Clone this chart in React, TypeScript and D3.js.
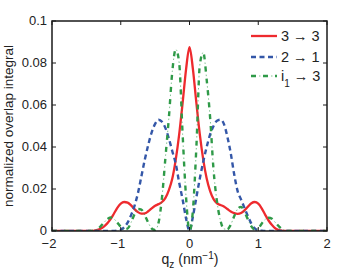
import { useEffect, useRef } from "react";
import * as d3 from "d3";

// q_z grid (nm^-1)
const qValues = [
  -2, -1.75, -1.5, -1.45, -1.4, -1.35, -1.3, -1.25, -1.2, -1.15, -1.1, -1.05,
  -1.0, -0.95, -0.9, -0.85, -0.8, -0.75, -0.7, -0.65, -0.6, -0.55, -0.5, -0.45,
  -0.4, -0.35, -0.3, -0.25, -0.2, -0.15, -0.1, -0.05, 0,
  0.05, 0.1, 0.15, 0.2, 0.25, 0.3, 0.35, 0.4, 0.45, 0.5, 0.55, 0.6,
  0.65, 0.7, 0.75, 0.8, 0.85, 0.9, 0.95, 1.0, 1.05, 1.1, 1.15, 1.2,
  1.25, 1.3, 1.35, 1.4, 1.45, 1.5, 1.75, 2,
];

// 3 -> 3
const red33 = [
  0, 0, 0, 0, 0.0001, 0.0004, 0.001, 0.002, 0.0035, 0.0055, 0.0082, 0.011,
  0.013, 0.0138, 0.0135, 0.0122, 0.0104, 0.009, 0.0083, 0.0084, 0.0094, 0.0108, 0.012, 0.0128,
  0.0138, 0.0158, 0.0195, 0.025, 0.034, 0.046, 0.061, 0.077, 0.0875,
  0.077, 0.061, 0.046, 0.034, 0.025, 0.019, 0.0152, 0.0132, 0.0124, 0.0117, 0.0105, 0.0093,
  0.0085, 0.0082, 0.0086, 0.0098, 0.0116, 0.0132, 0.0138, 0.013, 0.0108, 0.0078, 0.005, 0.0028,
  0.0012, 0.0004, 0.0001, 0, 0, 0, 0, 0,
];

// 2 -> 1
const blue21 = [
  0, 0, 0, 0, 0, 0, 0, 0, 0, 0, 0, 0.0002,
  0.0006, 0.0018, 0.004, 0.0075, 0.012, 0.018, 0.026, 0.034, 0.041, 0.047, 0.051, 0.053,
  0.052, 0.049, 0.044, 0.038, 0.032, 0.023, 0.015, 0.006, 0,
  0.007, 0.016, 0.025, 0.033, 0.04, 0.046, 0.05, 0.0525, 0.053, 0.051, 0.045, 0.037,
  0.027, 0.019, 0.015, 0.011, 0.007, 0.0035, 0.0012, 0.0003, 0.0001, 0, 0, 0,
  0, 0, 0, 0, 0, 0, 0, 0,
];

// i1 -> 3
const greenI13 = [
  0, 0, 0, 0, 0.0002, 0.0008, 0.002, 0.0038, 0.0055, 0.0064, 0.0058, 0.004,
  0.002, 0.0008, 0.0012, 0.004, 0.008, 0.0105, 0.0102, 0.0075, 0.004, 0.0012, 0.0005, 0.004,
  0.016, 0.035, 0.054, 0.076, 0.0865, 0.08, 0.046, 0.016, 0,
  0.01, 0.04, 0.079, 0.085, 0.072, 0.054, 0.029, 0.014, 0.005, 0.001, 0.0008, 0.003,
  0.007, 0.0105, 0.0115, 0.009, 0.0055, 0.0022, 0.0006, 0.0012, 0.0035, 0.0055, 0.0063, 0.0058,
  0.004, 0.0022, 0.0008, 0.0002, 0, 0, 0, 0,
];

const xTicks = [-2, -1, 0, 1, 2];
const xTickLabels = ["\u22122", "\u22121", "0", "1", "2"];
const yTicks = [0, 0.02, 0.04, 0.06, 0.08, 0.1];
const yTickLabels = ["0", "0.02", "0.04", "0.06", "0.08", "0.1"];

const font = "'Liberation Sans', Arial, Helvetica, sans-serif";
const redColor = "#ee2a2e";
const blueColor = "#3457a8";
const greenColor = "#2f9a48";

export default function App() {
  const ref = useRef<SVGSVGElement>(null);

  useEffect(() => {
    const svg = d3.select(ref.current);
    svg.selectAll("*").remove();

    const left = 52, right = 327, top = 21, bottom = 231;
    const x = d3.scaleLinear().domain([-2, 2]).range([left, right]);
    const y = d3.scaleLinear().domain([0, 0.1]).range([bottom, top]);

    svg.append("rect").attr("width", 362).attr("height", 277).attr("fill", "#fff");

    svg.append("clipPath").attr("id", "plotClip")
      .append("rect")
      .attr("x", left).attr("y", top - 2)
      .attr("width", right - left).attr("height", bottom - top + 2);

    const line = (vals: number[]) => d3.line<number>()
      .x((d, i) => x(qValues[i]))
      .y(d => y(d))
      .curve(d3.curveMonotoneX)(vals);

    const plot = svg.append("g").attr("clip-path", "url(#plotClip)");

    // red solid
    plot.append("path").attr("d", line(red33))
      .attr("fill", "none").attr("stroke", redColor).attr("stroke-width", 2.3);

    // blue dashed
    plot.append("path").attr("d", line(blue21))
      .attr("fill", "none").attr("stroke", blueColor).attr("stroke-width", 2.4)
      .attr("stroke-dasharray", "5 3.5");

    // green dash-dot: thick dashes plus faint dots
    plot.append("path").attr("d", line(greenI13))
      .attr("fill", "none").attr("stroke", greenColor).attr("stroke-width", 2.4)
      .attr("stroke-dasharray", "5 7");
    plot.append("path").attr("d", line(greenI13))
      .attr("fill", "none").attr("stroke", greenColor).attr("stroke-width", 1)
      .attr("stroke-opacity", 0.6)
      .attr("stroke-dasharray", "1.5 10.5").attr("stroke-dashoffset", 4);

    // box + ticks
    const axisColor = "#1a1a1a";
    svg.append("rect")
      .attr("x", left).attr("y", top)
      .attr("width", right - left).attr("height", bottom - top)
      .attr("fill", "none").attr("stroke", axisColor).attr("stroke-width", 1.5);

    const tickLen = 4;
    xTicks.forEach((t, i) => {
      svg.append("line").attr("x1", x(t)).attr("x2", x(t))
        .attr("y1", bottom).attr("y2", bottom - tickLen)
        .attr("stroke", axisColor).attr("stroke-width", 1);
      svg.append("line").attr("x1", x(t)).attr("x2", x(t))
        .attr("y1", top).attr("y2", top + tickLen)
        .attr("stroke", axisColor).attr("stroke-width", 1);
      svg.append("text").attr("x", x(t) - (t < 0 ? 3 : 0)).attr("y", bottom + 17)
        .attr("text-anchor", "middle")
        .attr("font-family", font).attr("font-size", 13).attr("fill", "#222")
        .text(xTickLabels[i]);
    });

    yTicks.forEach((t, i) => {
      svg.append("line").attr("x1", left).attr("x2", left + tickLen)
        .attr("y1", y(t)).attr("y2", y(t))
        .attr("stroke", axisColor).attr("stroke-width", 1);
      svg.append("line").attr("x1", right).attr("x2", right - tickLen)
        .attr("y1", y(t)).attr("y2", y(t))
        .attr("stroke", axisColor).attr("stroke-width", 1);
      svg.append("text").attr("x", left - 5).attr("y", y(t) + 4.4)
        .attr("text-anchor", "end")
        .attr("font-family", font).attr("font-size", 13).attr("fill", "#222")
        .text(yTickLabels[i]);
    });

    // axis labels
    const xl = svg.append("text").attr("x", 190).attr("y", 264)
      .attr("text-anchor", "middle")
      .attr("font-family", font).attr("font-size", 14).attr("fill", "#222");
    xl.append("tspan").text("q");
    xl.append("tspan").attr("font-size", 10).attr("dy", 4).text("z");
    xl.append("tspan").attr("dy", -4).text(" (nm");
    xl.append("tspan").attr("font-size", 10).attr("dy", -5).text("\u22121");
    xl.append("tspan").attr("dy", 5).text(")");

    svg.append("text")
      .attr("transform", `translate(13, ${(top + bottom) / 2}) rotate(-90)`)
      .attr("text-anchor", "middle")
      .attr("font-family", font).attr("font-size", 13.5).attr("fill", "#222")
      .text("normalized overlap integral");

    // legend
    const legendRows = [
      { y: 36, color: redColor, dash: null as string | null },
      { y: 57, color: blueColor, dash: "5 3.5" },
      { y: 76, color: greenColor, dash: "5 7" },
    ];
    legendRows.forEach((r, i) => {
      svg.append("line").attr("x1", 251).attr("x2", 277)
        .attr("y1", r.y).attr("y2", r.y)
        .attr("stroke", r.color).attr("stroke-width", i === 0 ? 2.3 : 2.4)
        .attr("stroke-dasharray", r.dash);
      if (i === 2) {
        svg.append("line").attr("x1", 251).attr("x2", 277)
          .attr("y1", r.y).attr("y2", r.y)
          .attr("stroke", r.color).attr("stroke-width", 1).attr("stroke-opacity", 0.6)
          .attr("stroke-dasharray", "1.5 10.5").attr("stroke-dashoffset", 4);
      }
    });
    const legText = (yy: number) => svg.append("text").attr("x", 281).attr("y", yy + 5)
      .attr("font-family", font).attr("font-size", 14.5).attr("fill", "#222");
    legText(36).text("3 \u2192 3");
    legText(57).text("2 \u2192 1");
    const t3 = legText(76);
    t3.append("tspan").text("i");
    t3.append("tspan").attr("font-size", 10).attr("dy", 6).text("1");
    t3.append("tspan").attr("dy", -6).text(" \u2192 3");
  }, []);

  return (
    <svg ref={ref} width={362} height={277}
      style={{ position: "absolute", left: 0, top: 0 }} />
  );
}
